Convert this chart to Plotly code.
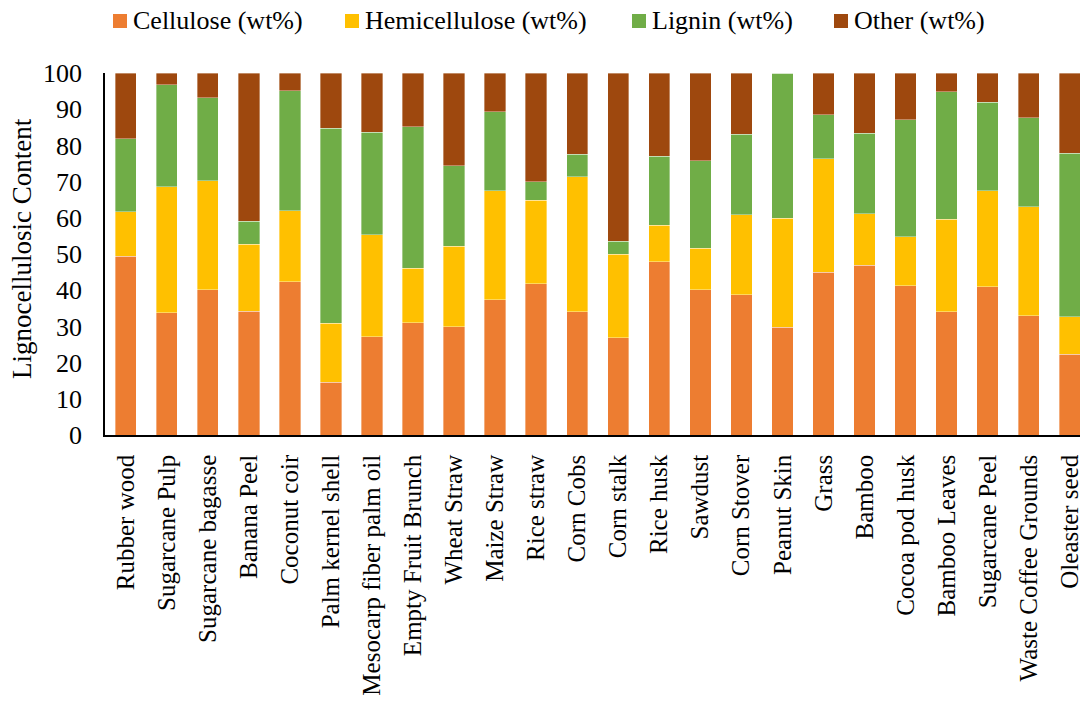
import plotly.graph_objects as go

# Biomass feedstocks and their lignocellulosic composition (wt%)
feedstocks = [
    "Rubber wood", "Sugarcane Pulp", "Sugarcane bagasse", "Banana Peel",
    "Coconut coir", "Palm kernel shell", "Mesocarp fiber palm oil",
    "Empty Fruit Brunch", "Wheat Straw", "Maize Straw", "Rice straw",
    "Corn Cobs", "Corn stalk", "Rice husk", "Sawdust", "Corn Stover",
    "Peanut Skin", "Grass", "Bamboo", "Cocoa pod husk", "Bamboo Leaves",
    "Sugarcane Peel", "Waste Coffee Grounds", "Oleaster seed",
]
cellulose = [49.4, 33.8, 40.1, 34.2, 42.4, 14.6, 27.2, 31.0, 29.9, 37.4, 41.8, 34.1,
             26.9, 47.8, 40.1, 38.8, 29.8, 44.9, 46.9, 41.2, 34.0, 40.9, 32.9, 22.3]
hemicellulose = [12.3, 34.8, 30.1, 18.5, 19.5, 16.3, 28.1, 15.0, 22.3, 30.1, 23.0, 37.3,
                 23.1, 10.1, 11.5, 22.1, 30.1, 31.4, 14.2, 13.5, 25.6, 26.6, 30.1, 10.4]
lignin = [20.1, 28.2, 23.0, 6.4, 33.2, 53.9, 28.4, 39.2, 22.2, 21.8, 5.1, 6.2,
          3.5, 19.1, 24.2, 22.2, 40.1, 12.2, 22.3, 32.4, 35.2, 24.4, 24.7, 45.2]
other = [18.2, 3.2, 6.8, 40.9, 4.9, 15.2, 16.3, 14.8, 25.6, 10.7, 30.1, 22.4,
         46.5, 23.0, 24.2, 16.9, 0.0, 11.5, 16.6, 12.9, 5.2, 8.1, 12.3, 22.1]
y_ticks = [0, 10, 20, 30, 40, 50, 60, 70, 80, 90, 100]

series_names = ["Cellulose (wt%)", "Hemicellulose (wt%)", "Lignin (wt%)", "Other (wt%)"]
series_values = [cellulose, hemicellulose, lignin, other]
series_colors = ["#ED7D31", "#FFC000", "#70AD47", "#9E480E"]

FONT = "Liberation Serif, Times New Roman, serif"
W, H = 1080, 707
L, R, T, B = 105, 0, 73, 272
PW, PH = W - L - R, H - T - B


def px_x(px):
    return (px - L) / PW


def px_y(py):
    return (H - B - py) / PH


fig = go.Figure()
for name, vals, col in zip(series_names, series_values, series_colors):
    fig.add_trace(go.Bar(
        x=feedstocks, y=vals, name=name, marker_color=col,
        marker_line=dict(width=0.6, color="rgba(255,255,255,0.6)"),
        showlegend=False,
    ))

# Legend row drawn as swatches + labels
legend_swatch_left = [113, 345, 632, 834]
for name, col, x0 in zip(series_names, series_colors, legend_swatch_left):
    fig.add_shape(type="rect", xref="paper", yref="paper",
                  x0=px_x(x0), x1=px_x(x0 + 14), y0=px_y(28), y1=px_y(14),
                  fillcolor=col, line_width=0)
    fig.add_annotation(xref="paper", yref="paper", x=px_x(x0 + 18), y=px_y(21),
                       xanchor="left", yanchor="middle", text=name, showarrow=False,
                       font=dict(family=FONT, size=26, color="#000"))

# Y-axis title
fig.add_annotation(xref="paper", yref="paper", x=px_x(22), y=px_y(249),
                   xanchor="center", yanchor="middle", textangle=-90,
                   text="Lignocellulosic Content", showarrow=False,
                   font=dict(family=FONT, size=27, color="#000"))

fig.update_layout(
    width=W, height=H,
    margin=dict(l=L, r=R, t=T, b=B, autoexpand=False),
    barmode="stack", bargap=0.48,
    plot_bgcolor="white", paper_bgcolor="white",
    font=dict(family=FONT, color="#000"),
)
fig.update_xaxes(
    type="category", range=[-0.504, 23.25],
    showline=True, linecolor="#000", linewidth=1.5,
    ticks="", tickangle=-90, tickfont=dict(family=FONT, size=25, color="#000"),
    ticklabelstandoff=8, showgrid=False, automargin=False,
)
fig.update_yaxes(
    range=[0, 100], tickvals=y_ticks,
    showline=True, linecolor="#000", linewidth=1.5,
    ticks="", tickfont=dict(family=FONT, size=26, color="#000"),
    ticklabelstandoff=16, showgrid=False, zeroline=False, automargin=False,
)

fig.write_html("out.html")
